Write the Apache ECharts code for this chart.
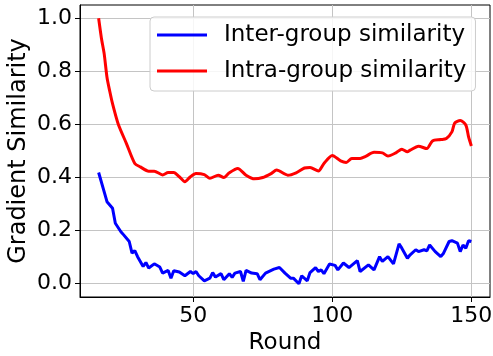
<!DOCTYPE html>
<html>
<head>
<meta charset="utf-8">
<script src="https://cdn.jsdelivr.net/npm/echarts@6/dist/echarts.min.js"></script>
<style>html,body{margin:0;padding:0;background:#fff;}#c{width:493px;height:356px;}</style>
</head>
<body>
<div id="c"></div>
<script>
const xTicks = [50, 100, 150];
const yTicks = [0.0, 0.2, 0.4, 0.6, 0.8, 1.0];

const interRounds = [16,18,19,21,22,24,25,27,28,29,30,32,33,34,36,38,39,41,42,43,45,47,49,50,51,52,54,56,57,58,60,61,63,64,65,67,68,69,71,73,74,76,79,81,83,85,86,88,89,91,92,94,95,96,97,99,101,102,104,106,109,110,113,115,117,118,120,122,124,125,127,128,130,131,133,134,135,137,139,140,142,143,145,146,147,148,149,150];
const interValues = [0.419,0.346,0.309,0.284,0.228,0.196,0.184,0.159,0.115,0.125,0.102,0.065,0.080,0.059,0.075,0.063,0.040,0.050,0.021,0.049,0.044,0.030,0.046,0.038,0.046,0.030,0.011,0.021,0.042,0.025,0.038,0.015,0.038,0.024,0.040,0.046,0.009,0.050,0.040,0.038,0.015,0.040,0.055,0.061,0.040,0.021,0.021,0.000,0.030,0.011,0.042,0.061,0.046,0.052,0.038,0.074,0.069,0.052,0.078,0.061,0.087,0.046,0.071,0.052,0.102,0.084,0.102,0.075,0.150,0.134,0.096,0.109,0.128,0.121,0.128,0.124,0.146,0.121,0.102,0.115,0.159,0.162,0.153,0.121,0.146,0.134,0.162,0.159];

const intraRounds = [16,17,18,19,20,21,23,26,29,31,34,36,39,41,43,45,47,49,51,54,56,59,61,63,66,69,72,75,78,80,84,87,90,92,95,97,100,103,105,107,110,112,115,118,120,123,125,127,128,131,134,136,139,141,143,144,146,148,149,150];
const intraValues = [1.000,0.925,0.866,0.778,0.725,0.678,0.603,0.528,0.453,0.440,0.424,0.424,0.410,0.419,0.419,0.403,0.384,0.403,0.415,0.411,0.397,0.409,0.400,0.418,0.434,0.409,0.395,0.400,0.415,0.428,0.409,0.418,0.436,0.438,0.425,0.453,0.483,0.463,0.457,0.472,0.472,0.480,0.495,0.493,0.481,0.494,0.507,0.497,0.503,0.518,0.509,0.538,0.543,0.547,0.572,0.605,0.615,0.598,0.553,0.519];

const pairs = (xs, ys) => xs.map((x, i) => [x, ys[i]]);
const FONT = 'DejaVu Sans';
const gridColor = '#c4c4c4';

const chart = echarts.init(document.getElementById('c'), null, {renderer: 'canvas'});
chart.setOption({
  animation: false,
  backgroundColor: '#fff',
  grid: {left: 80, right: 3, top: 5, bottom: 59, show: true, borderColor: '#000', borderWidth: 1, containLabel: false, outerBoundsMode: 'none'},
  xAxis: {
    type: 'value', min: 9.3, max: 156.7,
    name: 'Round', nameLocation: 'middle', nameGap: 31,
    nameTextStyle: {fontFamily: FONT, fontSize: 23, color: '#000'},
    axisLine: {show: true, onZero: false, lineStyle: {color: '#000', width: 1}},
    axisTick: {show: true, inside: false, length: 5, customValues: xTicks, lineStyle: {color: '#000'}},
    axisLabel: {customValues: xTicks, fontFamily: FONT, fontSize: 22, color: '#000', margin: 8},
    splitLine: {show: true, lineStyle: {color: gridColor, width: 1}}
  },
  yAxis: {
    type: 'value', min: -0.05, max: 1.05,
    name: 'Gradient Similarity', nameLocation: 'middle', nameGap: 49, nameMoveOverlap: false,
    nameTextStyle: {fontFamily: FONT, fontSize: 24, color: '#000'},
    axisLine: {show: true, onZero: false, lineStyle: {color: '#000', width: 1}},
    axisTick: {show: true, inside: false, length: 5, customValues: yTicks, lineStyle: {color: '#000'}},
    axisLabel: {customValues: yTicks, fontFamily: FONT, fontSize: 22, color: '#000', margin: 8, formatter: v => v.toFixed(1)},
    splitLine: {show: true, lineStyle: {color: gridColor, width: 1}}
  },
  legend: {
    orient: 'vertical', left: 150, top: 17,
    icon: 'rect', itemWidth: 50, itemHeight: 3, itemGap: 12,
    padding: [6, 9, 8, 7],
    backgroundColor: 'rgba(255,255,255,0.85)', borderColor: '#cccccc', borderWidth: 1, borderRadius: 4,
    textStyle: {fontFamily: FONT, fontSize: 23, color: '#000', lineHeight: 24, padding: [0, 0, 0, 12]},
    data: ['Inter-group similarity', 'Intra-group similarity']
  },
  series: [
    {name: 'Inter-group similarity', type: 'line', data: pairs(interRounds, interValues), showSymbol: false, symbol: 'none', color: '#0000ff', lineStyle: {color: '#0000ff', width: 3}},
    {name: 'Intra-group similarity', type: 'line', data: pairs(intraRounds, intraValues), showSymbol: false, symbol: 'none', smooth: 0.25, color: '#ff0000', lineStyle: {color: '#ff0000', width: 3}}
  ]
});
</script>
</body>
</html>
